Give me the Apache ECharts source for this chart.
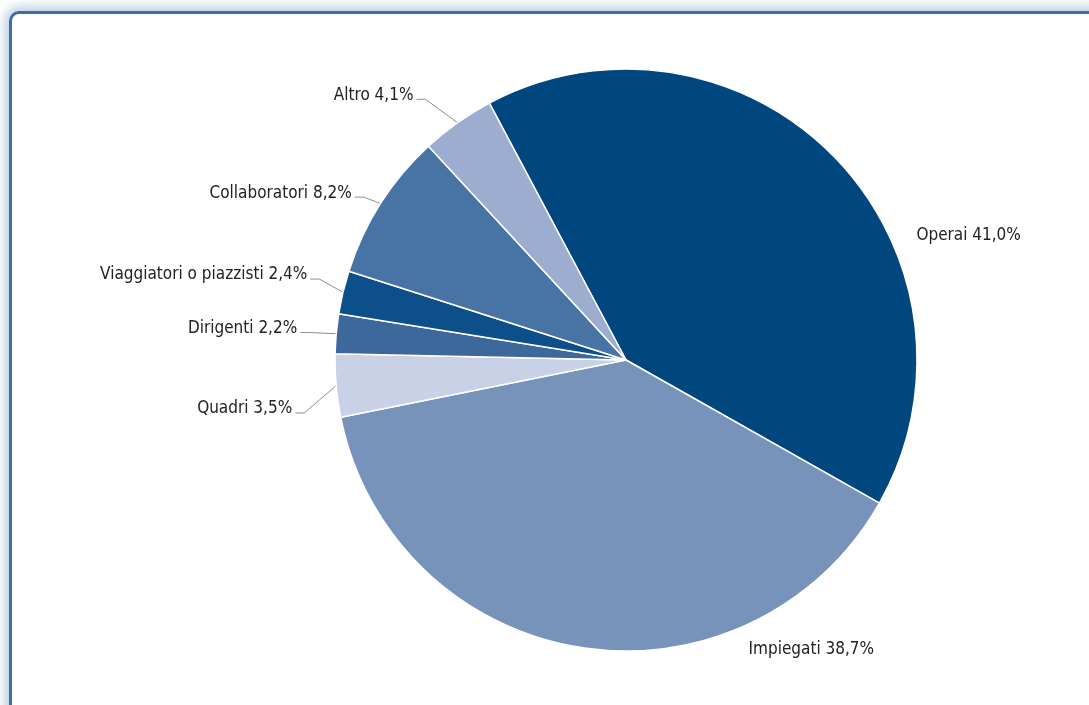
<!DOCTYPE html>
<html>
<head>
<meta charset="utf-8">
<script src="https://cdn.jsdelivr.net/npm/echarts@6/dist/echarts.min.js"></script>
<style>
html,body{margin:0;padding:0;background:#fff;width:1089px;height:705px;overflow:hidden;}
#frame{position:absolute;left:9px;top:11px;width:1200px;height:800px;border:3px solid #3d6ea6;border-radius:10px;box-shadow:0 0 11px 4px rgba(120,155,195,0.5);background:#fff;}
#chart{position:absolute;left:0;top:0;width:1089px;height:705px;}
</style>
</head>
<body>
<div id="frame"></div>
<div id="chart"></div>
<script>
const categories = ["Operai", "Impiegati", "Quadri", "Dirigenti", "Viaggiatori o piazzisti", "Collaboratori", "Altro"];
const values = [41.0, 38.7, 3.5, 2.2, 2.4, 8.2, 4.1];
const colors = ["#00467f", "#7793bc", "#c8d1e5", "#3c689c", "#0c4f8a", "#4773a5", "#9cadcf"];
// label nudges (style only): offset from ECharts' default label position
const labelShift = [[57, 88.5], [311, -12], [-15, 22], [-10, -4], [-7, -14], [-2, -3], [-21, -16]];

const chart = echarts.init(document.getElementById('chart'));
const data = categories.map((c, i) => ({
  name: c,
  value: values[i],
  itemStyle: { color: colors[i] },
  labelLine: { show: i > 1 }
}));
chart.setOption({
  animation: false,
  series: [{
    type: 'pie',
    center: [626, 360],
    radius: 291,
    startAngle: 118,
    clockwise: true,
    avoidLabelOverlap: true,
    data: data,
    itemStyle: { borderColor: '#fff', borderWidth: 1.5 },
    label: {
      show: true,
      fontFamily: 'DejaVu Sans Condensed',
      fontSize: 17,
      color: '#222',
      formatter: p => p.name + ' ' + p.value.toFixed(1).replace('.', ',') + '%'
    },
    labelLine: {
      show: true,
      length: 14,
      length2: 10,
      lineStyle: { color: '#8c8c8c', width: 1 }
    },
    labelLayout: function (p) {
      const s = labelShift[p.dataIndex];
      const r = p.labelRect;
      const leftSide = p.align === 'right' || (p.labelLinePoints && p.labelLinePoints[2][0] < p.labelLinePoints[0][0]);
      const anchorX = leftSide ? r.x + r.width : r.x;
      const cy = r.y + r.height / 2 + s[1];
      const x = anchorX + s[0];
      const out = { x: x, y: cy };
      if (p.labelLinePoints && p.dataIndex > 1) {
        const lx = x + (leftSide ? 3 : -3);
        const ly = cy + 4;
        const bx = lx + (leftSide ? 9 : -9);
        out.labelLinePoints = [p.labelLinePoints[0], [bx, ly], [lx, ly]];
      }
      return out;
    }
  }]
});
</script>
</body>
</html>
